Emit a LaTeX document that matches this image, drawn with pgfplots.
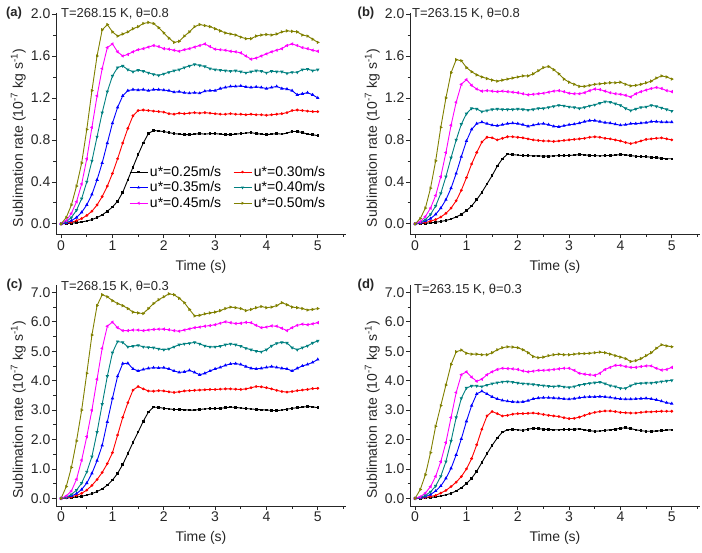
\documentclass[border=0pt]{standalone}
\usepackage{fontspec}
\setmainfont{Liberation Sans}
\usepackage{pgfplots}
\usepackage{pgfplotstable}
\pgfplotsset{compat=1.18}
\definecolor{oteal}{RGB}{0,128,128}
\definecolor{oolive}{RGB}{128,128,0}
\definecolor{omag}{RGB}{255,0,255}
\definecolor{ored}{RGB}{255,0,0}
\definecolor{oblue}{RGB}{0,0,255}

\pgfplotstableread{
t v25 v30 v35 v40 v45 v50
0.0 0.000 0.000 0.000 0.000 0.000 0.000
0.1 0.003 0.006 0.010 0.020 0.030 0.060
0.2 0.006 0.015 0.030 0.060 0.100 0.180
0.3 0.011 0.030 0.060 0.130 0.210 0.360
0.4 0.018 0.050 0.110 0.240 0.380 0.580
0.5 0.027 0.080 0.180 0.400 0.620 0.900
0.6 0.040 0.120 0.280 0.600 0.920 1.270
0.7 0.060 0.180 0.420 0.830 1.220 1.600
0.8 0.085 0.260 0.580 1.060 1.480 1.850
0.9 0.120 0.360 0.770 1.260 1.680 1.900
1.0 0.160 0.480 0.960 1.410 1.715 1.830
1.1 0.215 0.620 1.110 1.490 1.640 1.790
1.2 0.300 0.770 1.220 1.505 1.600 1.810
1.3 0.420 0.910 1.270 1.470 1.615 1.830
1.4 0.540 1.030 1.280 1.450 1.640 1.860
1.5 0.660 1.080 1.275 1.465 1.660 1.880
1.6 0.770 1.085 1.280 1.455 1.670 1.910
1.7 0.860 1.080 1.270 1.440 1.685 1.920
1.8 0.890 1.075 1.280 1.425 1.700 1.910
1.9 0.885 1.070 1.280 1.415 1.690 1.870
2.0 0.880 1.065 1.275 1.430 1.670 1.820
2.1 0.870 1.050 1.270 1.445 1.665 1.770
2.2 0.860 1.045 1.255 1.460 1.655 1.730
2.3 0.855 1.055 1.260 1.470 1.645 1.740
2.4 0.850 1.050 1.250 1.490 1.660 1.790
2.5 0.850 1.055 1.245 1.505 1.670 1.830
2.6 0.855 1.060 1.250 1.520 1.685 1.880
2.7 0.860 1.055 1.245 1.510 1.700 1.900
2.8 0.855 1.060 1.265 1.500 1.715 1.890
2.9 0.860 1.055 1.270 1.480 1.690 1.880
3.0 0.860 1.050 1.270 1.470 1.665 1.860
3.1 0.855 1.045 1.290 1.465 1.660 1.840
3.2 0.850 1.045 1.300 1.460 1.655 1.820
3.3 0.850 1.050 1.310 1.455 1.645 1.810
3.4 0.855 1.045 1.310 1.460 1.640 1.800
3.5 0.860 1.045 1.315 1.450 1.630 1.780
3.6 0.865 1.040 1.305 1.440 1.600 1.765
3.7 0.870 1.045 1.300 1.450 1.570 1.765
3.8 0.860 1.040 1.305 1.460 1.580 1.790
3.9 0.855 1.040 1.300 1.455 1.600 1.800
4.0 0.850 1.035 1.290 1.440 1.620 1.805
4.1 0.855 1.040 1.300 1.455 1.640 1.800
4.2 0.860 1.045 1.310 1.450 1.655 1.810
4.3 0.855 1.050 1.290 1.450 1.670 1.830
4.4 0.865 1.060 1.285 1.435 1.700 1.840
4.5 0.880 1.080 1.270 1.445 1.715 1.835
4.6 0.880 1.085 1.230 1.445 1.700 1.830
4.7 0.870 1.080 1.240 1.470 1.680 1.800
4.8 0.855 1.075 1.250 1.475 1.670 1.790
4.9 0.850 1.070 1.230 1.460 1.655 1.760
5.0 0.840 1.070 1.200 1.470 1.645 1.730
}\tabA

\pgfplotstableread{
t v25 v30 v35 v40 v45 v50
0.0 0.000 0.000 0.000 0.000 0.000 0.000
0.1 0.002 0.005 0.010 0.015 0.020 0.050
0.2 0.005 0.012 0.025 0.040 0.070 0.150
0.3 0.009 0.025 0.050 0.090 0.150 0.340
0.4 0.015 0.040 0.090 0.170 0.270 0.600
0.5 0.022 0.065 0.150 0.290 0.450 0.920
0.6 0.032 0.100 0.230 0.450 0.680 1.200
0.7 0.046 0.150 0.340 0.630 0.940 1.440
0.8 0.065 0.220 0.480 0.800 1.160 1.565
0.9 0.090 0.320 0.640 0.950 1.330 1.555
1.0 0.125 0.440 0.790 1.050 1.375 1.490
1.1 0.170 0.570 0.900 1.100 1.320 1.450
1.2 0.230 0.680 0.955 1.095 1.285 1.420
1.3 0.300 0.780 0.970 1.070 1.265 1.400
1.4 0.380 0.825 0.955 1.080 1.270 1.385
1.5 0.460 0.820 0.940 1.090 1.265 1.370
1.6 0.550 0.800 0.935 1.095 1.260 1.360
1.7 0.620 0.815 0.945 1.090 1.265 1.370
1.8 0.665 0.830 0.955 1.090 1.260 1.380
1.9 0.660 0.830 0.960 1.090 1.255 1.390
2.0 0.655 0.825 0.955 1.095 1.250 1.400
2.1 0.650 0.820 0.945 1.090 1.240 1.410
2.2 0.650 0.810 0.930 1.085 1.230 1.410
2.3 0.648 0.800 0.940 1.090 1.235 1.430
2.4 0.648 0.795 0.950 1.100 1.240 1.460
2.5 0.645 0.790 0.955 1.100 1.245 1.490
2.6 0.645 0.790 0.945 1.110 1.255 1.500
2.7 0.648 0.785 0.930 1.120 1.265 1.470
2.8 0.650 0.790 0.925 1.130 1.270 1.430
2.9 0.650 0.795 0.935 1.125 1.260 1.380
3.0 0.652 0.800 0.945 1.115 1.245 1.350
3.1 0.655 0.805 0.950 1.110 1.240 1.330
3.2 0.660 0.810 0.960 1.100 1.240 1.310
3.3 0.658 0.815 0.975 1.110 1.250 1.310
3.4 0.652 0.825 0.985 1.125 1.270 1.320
3.5 0.650 0.830 0.985 1.135 1.285 1.330
3.6 0.648 0.825 0.975 1.150 1.280 1.335
3.7 0.650 0.815 0.965 1.165 1.265 1.340
3.8 0.652 0.810 0.960 1.160 1.250 1.345
3.9 0.655 0.800 0.950 1.145 1.240 1.345
4.0 0.660 0.790 0.940 1.130 1.235 1.350
4.1 0.658 0.775 0.945 1.100 1.225 1.330
4.2 0.650 0.765 0.955 1.080 1.210 1.315
4.3 0.645 0.775 0.955 1.095 1.240 1.320
4.4 0.640 0.790 0.960 1.110 1.260 1.330
4.5 0.640 0.805 0.965 1.115 1.275 1.345
4.6 0.635 0.810 0.975 1.130 1.290 1.360
4.7 0.630 0.815 0.975 1.120 1.300 1.390
4.8 0.625 0.820 0.970 1.105 1.290 1.410
4.9 0.620 0.810 0.970 1.090 1.270 1.400
5.0 0.620 0.800 0.970 1.075 1.260 1.380
}\tabB

\pgfplotstableread{
t v25 v30 v35 v40 v45 v50
0.0 0.000 0.000 0.000 0.000 0.000 0.000
0.1 0.010 0.020 0.030 0.040 0.080 0.400
0.2 0.025 0.050 0.080 0.130 0.250 1.050
0.3 0.045 0.100 0.160 0.280 0.650 1.950
0.4 0.070 0.170 0.300 0.520 1.300 3.000
0.5 0.110 0.280 0.520 0.900 2.100 4.250
0.6 0.160 0.440 0.850 1.420 3.000 5.550
0.7 0.230 0.640 1.280 2.250 4.050 6.550
0.8 0.320 0.880 1.800 3.200 5.100 6.920
0.9 0.450 1.180 2.600 4.150 5.850 6.850
1.0 0.620 1.550 3.400 4.950 5.990 6.720
1.1 0.850 2.150 4.150 5.330 5.800 6.620
1.2 1.150 2.750 4.580 5.300 5.700 6.550
1.3 1.520 3.250 4.590 5.150 5.700 6.450
1.4 1.900 3.680 4.400 5.170 5.720 6.330
1.5 2.250 3.800 4.330 5.200 5.720 6.300
1.6 2.620 3.720 4.380 5.150 5.700 6.280
1.7 2.930 3.650 4.420 5.130 5.720 6.450
1.8 3.100 3.640 4.440 5.120 5.740 6.620
1.9 3.090 3.660 4.430 5.080 5.750 6.750
2.0 3.060 3.650 4.440 5.050 5.750 6.850
2.1 3.040 3.620 4.400 5.080 5.730 6.950
2.2 3.020 3.600 4.330 5.150 5.700 6.920
2.3 3.020 3.620 4.280 5.220 5.680 6.800
2.4 3.010 3.650 4.300 5.250 5.720 6.650
2.5 3.000 3.660 4.350 5.270 5.760 6.420
2.6 3.000 3.670 4.280 5.300 5.800 6.200
2.7 3.020 3.680 4.200 5.250 5.820 6.220
2.8 3.040 3.690 4.250 5.180 5.850 6.270
2.9 3.050 3.700 4.330 5.150 5.870 6.300
3.0 3.050 3.700 4.400 5.150 5.900 6.330
3.1 3.060 3.710 4.450 5.170 5.950 6.380
3.2 3.080 3.720 4.520 5.220 6.000 6.450
3.3 3.100 3.720 4.570 5.250 5.970 6.500
3.4 3.090 3.710 4.580 5.220 5.940 6.480
3.5 3.070 3.700 4.550 5.170 5.950 6.450
3.6 3.050 3.720 4.480 5.100 5.980 6.380
3.7 3.040 3.760 4.420 5.050 5.970 6.420
3.8 3.020 3.800 4.400 5.000 5.880 6.480
3.9 3.010 3.790 4.420 4.980 5.800 6.520
4.0 3.000 3.760 4.450 5.050 5.820 6.480
4.1 2.990 3.720 4.480 5.180 5.860 6.500
4.2 2.980 3.670 4.450 5.270 5.850 6.550
4.3 3.000 3.630 4.420 5.300 5.780 6.650
4.4 3.030 3.610 4.400 5.280 5.700 6.580
4.5 3.060 3.630 4.330 5.120 5.800 6.500
4.6 3.080 3.660 4.420 5.050 5.880 6.480
4.7 3.100 3.680 4.500 5.120 5.920 6.450
4.8 3.120 3.700 4.550 5.180 5.900 6.400
4.9 3.110 3.730 4.620 5.280 5.930 6.420
5.0 3.080 3.740 4.720 5.350 5.970 6.450
}\tabC

\pgfplotstableread{
t v25 v30 v35 v40 v45 v50
0.0 0.000 0.000 0.000 0.000 0.000 0.000
0.1 0.005 0.010 0.020 0.030 0.050 0.300
0.2 0.015 0.030 0.060 0.100 0.180 0.800
0.3 0.030 0.060 0.130 0.220 0.400 1.550
0.4 0.050 0.100 0.250 0.420 0.750 2.450
0.5 0.080 0.180 0.420 0.750 1.250 3.150
0.6 0.120 0.270 0.680 1.250 1.900 3.850
0.7 0.170 0.400 1.020 1.950 2.750 4.550
0.8 0.250 0.550 1.480 2.750 3.600 4.980
0.9 0.360 0.740 2.020 3.400 4.200 5.040
1.0 0.500 1.000 2.620 3.750 4.300 4.930
1.1 0.680 1.350 3.150 3.820 4.120 4.900
1.2 0.920 1.820 3.550 3.820 3.980 4.900
1.3 1.220 2.350 3.640 3.800 4.050 4.880
1.4 1.520 2.800 3.550 3.850 4.200 4.880
1.5 1.800 2.950 3.450 3.900 4.300 4.950
1.6 2.050 2.880 3.380 3.930 4.380 5.050
1.7 2.250 2.800 3.330 3.960 4.420 5.120
1.8 2.330 2.820 3.300 3.970 4.410 5.150
1.9 2.340 2.860 3.280 3.950 4.400 5.140
2.0 2.330 2.880 3.270 3.920 4.380 5.120
2.1 2.310 2.880 3.280 3.900 4.330 5.050
2.2 2.350 2.890 3.320 3.890 4.300 4.950
2.3 2.380 2.900 3.380 3.870 4.320 4.820
2.4 2.370 2.880 3.410 3.850 4.350 4.780
2.5 2.350 2.850 3.420 3.830 4.350 4.800
2.6 2.340 2.820 3.420 3.810 4.360 4.850
2.7 2.330 2.800 3.410 3.800 4.380 4.880
2.8 2.330 2.780 3.400 3.820 4.400 4.900
2.9 2.340 2.740 3.380 3.790 4.420 4.880
3.0 2.340 2.710 3.370 3.770 4.420 4.880
3.1 2.350 2.720 3.390 3.800 4.350 4.900
3.2 2.360 2.760 3.420 3.850 4.250 4.920
3.3 2.330 2.820 3.440 3.880 4.220 4.920
3.4 2.300 2.880 3.450 3.910 4.200 4.930
3.5 2.280 2.920 3.450 3.930 4.180 4.950
3.6 2.290 2.950 3.460 3.950 4.250 4.970
3.7 2.310 2.970 3.450 3.900 4.380 4.950
3.8 2.330 2.970 3.430 3.830 4.450 4.900
3.9 2.350 2.950 3.400 3.800 4.520 4.850
4.0 2.380 2.920 3.380 3.740 4.520 4.800
4.1 2.400 2.910 3.370 3.740 4.480 4.750
4.2 2.370 2.900 3.370 3.830 4.450 4.650
4.3 2.330 2.900 3.380 3.900 4.450 4.680
4.4 2.300 2.920 3.390 3.910 4.480 4.750
4.5 2.280 2.940 3.400 3.920 4.500 4.850
4.6 2.280 2.940 3.380 3.920 4.500 4.950
4.7 2.290 2.950 3.350 3.940 4.420 5.100
4.8 2.300 2.960 3.300 3.970 4.360 5.220
4.9 2.320 2.960 3.250 3.990 4.380 5.180
5.0 2.330 2.960 3.220 4.010 4.450 5.150
}\tabD

\pgfplotsset{
  panel/.style={
    scale only axis, width=290pt,
    xmin=-0.1, xmax=5.55,
    axis x line*=bottom, axis y line*=left,
    axis line style={-, line width=0.7pt, black!85},
    tick align=outside,
    xtick={0,1,2,3,4,5}, minor xtick={0.5,1.5,2.5,3.5,4.5,5.5}, minor y tick num=1,
    major tick length=4pt, minor tick length=2.5pt,
    every tick/.style={line width=0.7pt, black!85},
    /pgf/number format/assume math mode=true,
    tick label style={font=\fontsize{14}{16}\selectfont, black!85},
    xticklabel style={inner sep=2pt},
    yticklabel style={inner sep=1.5pt, /pgf/number format/.cd, fixed, fixed zerofill, precision=1},
    xlabel={Time (s)},
    ylabel={Sublimation rate (10\textsuperscript{-7} kg s\textsuperscript{-1})},
    xlabel style={font=\fontsize{14}{16}\selectfont, black!85, yshift=-4pt},
    every axis y label/.style={at={(ticklabel cs:0.435)}, rotate=90, anchor=near ticklabel,
      font=\fontsize{14}{16}\selectfont, black!85},
    clip=false,
  },
  top/.style={panel, height=221.3pt, ymin=-0.1, ymax=2.01, ytick={0,0.4,0.8,1.2,1.6,2.0}},
  bot/.style={panel, height=221pt, ymin=-0.26, ymax=7.25, ytick={0,1,2,3,4,5,6,7}},
  s25/.style={black, line width=0.9pt, mark=square*, mark size=0.8pt},
  s30/.style={ored, line width=0.9pt, mark=*, mark size=0.9pt},
  s35/.style={oblue, line width=0.9pt, mark=triangle*, mark size=1.1pt},
  s40/.style={oteal, line width=0.9pt, mark=triangle*, mark size=1.1pt, mark options={rotate=180}},
  s45/.style={omag, line width=0.9pt, mark=triangle*, mark size=1.1pt, mark options={rotate=90}},
  s50/.style={oolive, line width=0.9pt, mark=triangle*, mark size=1.1pt, mark options={rotate=-90}},
}

\begin{document}
\begin{tikzpicture}
\useasboundingbox (0,0) rectangle (702pt,552pt);

% (a)
\begin{axis}[top, at={(56pt,317.7pt)}, anchor=south west,
  legend columns=2, legend cell align=left,
  legend image code/.code={\draw[mark repeat=2,mark phase=2,#1, line width=0.7pt] plot coordinates {(0pt,0pt) (9pt,0pt) (18pt,0pt)};},
  legend style={at={(0.252,0.318)}, anchor=north west, draw=none, fill=none,
    font=\fontsize{14}{15}\selectfont, inner sep=0pt, row sep=0pt,
    /tikz/every even column/.append style={column sep=10pt}}]
\addplot[s25] table[x=t,y=v25]{\tabA}; \addlegendentry{u*=0.25m/s}
\addplot[s30] table[x=t,y=v30]{\tabA}; \addlegendentry{u*=0.30m/s}
\addplot[s35] table[x=t,y=v35]{\tabA}; \addlegendentry{u*=0.35m/s}
\addplot[s40] table[x=t,y=v40]{\tabA}; \addlegendentry{u*=0.40m/s}
\addplot[s45] table[x=t,y=v45]{\tabA}; \addlegendentry{u*=0.45m/s}
\addplot[s50] table[x=t,y=v50]{\tabA}; \addlegendentry{u*=0.50m/s}
\end{axis}

% (b)
\begin{axis}[top, at={(410pt,317.7pt)}, anchor=south west]
\addplot[s25] table[x=t,y=v25]{\tabB};
\addplot[s30] table[x=t,y=v30]{\tabB};
\addplot[s35] table[x=t,y=v35]{\tabB};
\addplot[s40] table[x=t,y=v40]{\tabB};
\addplot[s45] table[x=t,y=v45]{\tabB};
\addplot[s50] table[x=t,y=v50]{\tabB};
\end{axis}

% (c)
\begin{axis}[bot, at={(56pt,46pt)}, anchor=south west]
\addplot[s25] table[x=t,y=v25]{\tabC};
\addplot[s30] table[x=t,y=v30]{\tabC};
\addplot[s35] table[x=t,y=v35]{\tabC};
\addplot[s40] table[x=t,y=v40]{\tabC};
\addplot[s45] table[x=t,y=v45]{\tabC};
\addplot[s50] table[x=t,y=v50]{\tabC};
\end{axis}

% (d)
\begin{axis}[bot, at={(410pt,46pt)}, anchor=south west]
\addplot[s25] table[x=t,y=v25]{\tabD};
\addplot[s30] table[x=t,y=v30]{\tabD};
\addplot[s35] table[x=t,y=v35]{\tabD};
\addplot[s40] table[x=t,y=v40]{\tabD};
\addplot[s45] table[x=t,y=v45]{\tabD};
\addplot[s50] table[x=t,y=v50]{\tabD};
\end{axis}

\begin{scope}[every node/.style={inner sep=0pt, black!85}]
\node[font=\bfseries\fontsize{13}{15}\selectfont] at (14pt,539pt) {(a)};
\node[font=\bfseries\fontsize{13}{15}\selectfont] at (366pt,539pt) {(b)};
\node[font=\bfseries\fontsize{13}{15}\selectfont] at (14.5pt,267pt) {(c)};
\node[font=\bfseries\fontsize{13}{15}\selectfont] at (366pt,267pt) {(d)};
\node[anchor=west, font=\fontsize{13}{15}\selectfont] at (61pt,538pt) {T=268.15 K, θ=0.8};
\node[anchor=west, font=\fontsize{13}{15}\selectfont] at (412pt,538pt) {T=263.15 K, θ=0.8};
\node[anchor=west, font=\fontsize{13}{15}\selectfont] at (61pt,265pt) {T=268.15 K, θ=0.3};
\node[anchor=west, font=\fontsize{13}{15}\selectfont] at (414pt,262pt) {T=263.15 K, θ=0.3};
\end{scope}
\end{tikzpicture}
\end{document}
